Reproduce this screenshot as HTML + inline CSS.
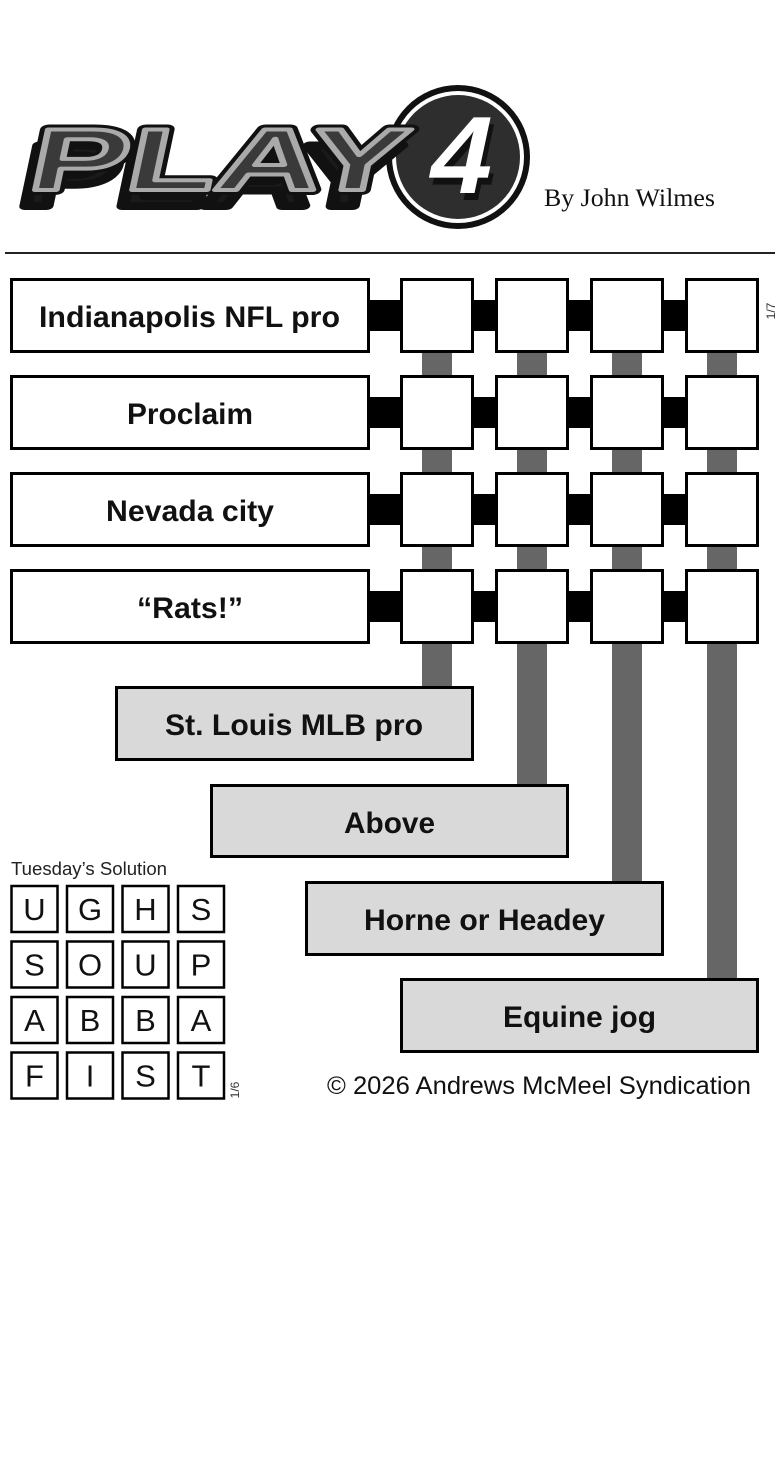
<!DOCTYPE html>
<html><head><meta charset="utf-8"><style>
html,body{margin:0;padding:0;background:#fff;}
svg{display:block;}
</style></head><body>
<svg width="775" height="1467" viewBox="0 0 775 1467" xmlns="http://www.w3.org/2000/svg" font-family="Liberation Sans, Arial, sans-serif">
<rect width="775" height="1467" fill="#fff"/>
<circle cx="458" cy="157" r="72" fill="#111"/>
<circle cx="458" cy="157" r="66" fill="#fff"/>
<circle cx="458" cy="157" r="62" fill="#2e2e2e"/>
<g transform="skewX(-12)">
  <text x="60" y="206" font-size="88" font-weight="bold" textLength="375" lengthAdjust="spacingAndGlyphs" fill="#1a1a1a" stroke="#111" stroke-width="8" stroke-linejoin="round">PLAY</text>
  <text x="66" y="190" font-size="88" font-weight="bold" textLength="375" lengthAdjust="spacingAndGlyphs" fill="#3a3a3a" stroke="#111" stroke-width="10" stroke-linejoin="round">PLAY</text>
  <text x="66" y="190" font-size="88" font-weight="bold" textLength="375" lengthAdjust="spacingAndGlyphs" fill="#3a3a3a" stroke="#aaa" stroke-width="4" stroke-linejoin="round">PLAY</text>
  <text x="470" y="200" font-size="110" font-weight="bold" fill="#111">4</text>
  <text x="465" y="193" font-size="110" font-weight="bold" fill="#fff">4</text>
</g>
<text x="544" y="206" font-family="Liberation Serif, serif" font-size="25" fill="#111" textLength="171" lengthAdjust="spacingAndGlyphs">By John Wilmes</text>
<rect x="5" y="252" width="770" height="2" fill="#222"/>

<rect x="422" y="340" width="30" height="348" fill="#666"/>
<rect x="517" y="340" width="30" height="446" fill="#666"/>
<rect x="612" y="340" width="30" height="543" fill="#666"/>
<rect x="707" y="340" width="30" height="640" fill="#666"/>

<rect x="366" y="300" width="330" height="31" fill="#000"/>
<rect x="366" y="397" width="330" height="31" fill="#000"/>
<rect x="366" y="494" width="330" height="31" fill="#000"/>
<rect x="366" y="591" width="330" height="31" fill="#000"/>

<g stroke="#000" stroke-width="3" fill="#fff">
<rect x="11.5" y="279.5" width="357" height="72"/>
<rect x="11.5" y="376.5" width="357" height="72"/>
<rect x="11.5" y="473.5" width="357" height="72"/>
<rect x="11.5" y="570.5" width="357" height="72"/>
<g id="sq">
<rect x="401.5" y="279.5" width="71" height="72"/>
<rect x="496.5" y="279.5" width="71" height="72"/>
<rect x="591.5" y="279.5" width="71" height="72"/>
<rect x="686.5" y="279.5" width="71" height="72"/>
</g>
<use href="#sq" y="97"/>
<use href="#sq" y="194"/>
<use href="#sq" y="291"/>
</g>

<g font-size="30" font-weight="bold" fill="#111">
<text x="39" y="327" textLength="301" lengthAdjust="spacingAndGlyphs">Indianapolis NFL pro</text>
<text x="127" y="424" textLength="126" lengthAdjust="spacingAndGlyphs">Proclaim</text>
<text x="106" y="521" textLength="168" lengthAdjust="spacingAndGlyphs">Nevada city</text>
<text x="137" y="618" textLength="106" lengthAdjust="spacingAndGlyphs">“Rats!”</text>
</g>
<text transform="translate(775,311) rotate(-90)" font-size="12" text-anchor="middle" fill="#333">1/7</text>

<g stroke="#000" stroke-width="3" fill="#d9d9d9">
<rect x="116.5" y="687.5" width="356" height="72"/>
<rect x="211.5" y="785.5" width="356" height="71"/>
<rect x="306.5" y="882.5" width="356" height="72"/>
<rect x="401.5" y="979.5" width="356" height="72"/>
</g>
<g font-size="30" font-weight="bold" fill="#111">
<text x="165" y="735" textLength="258" lengthAdjust="spacingAndGlyphs">St. Louis MLB pro</text>
<text x="344" y="833" textLength="91" lengthAdjust="spacingAndGlyphs">Above</text>
<text x="364" y="930" textLength="241" lengthAdjust="spacingAndGlyphs">Horne or Headey</text>
<text x="503" y="1027" textLength="153" lengthAdjust="spacingAndGlyphs">Equine jog</text>
</g>

<text x="11" y="875" font-size="18" fill="#222" textLength="156" lengthAdjust="spacingAndGlyphs">Tuesday’s Solution</text>
<g stroke="#000" stroke-width="2.5" fill="#fff">
<g id="sr">
<rect x="11.5" y="886" width="46" height="46"/>
<rect x="67" y="886" width="46" height="46"/>
<rect x="122.5" y="886" width="46" height="46"/>
<rect x="178" y="886" width="46" height="46"/>
</g>
<use href="#sr" y="55.5"/>
<use href="#sr" y="111"/>
<use href="#sr" y="166.5"/>
</g>
<g font-size="31" text-anchor="middle" fill="#111">
<text x="34.5" y="920">U</text><text x="90" y="920">G</text><text x="145.5" y="920">H</text><text x="201" y="920">S</text>
<text x="34.5" y="975.5">S</text><text x="90" y="975.5">O</text><text x="145.5" y="975.5">U</text><text x="201" y="975.5">P</text>
<text x="34.5" y="1031">A</text><text x="90" y="1031">B</text><text x="145.5" y="1031">B</text><text x="201" y="1031">A</text>
<text x="34.5" y="1086.5">F</text><text x="90" y="1086.5">I</text><text x="145.5" y="1086.5">S</text><text x="201" y="1086.5">T</text>
</g>
<text transform="translate(239,1090) rotate(-90)" font-size="12" text-anchor="middle" fill="#333">1/6</text>

<text x="327" y="1094" font-size="25" fill="#111" textLength="424" lengthAdjust="spacingAndGlyphs">© 2026 Andrews McMeel Syndication</text>
</svg>
</body></html>
